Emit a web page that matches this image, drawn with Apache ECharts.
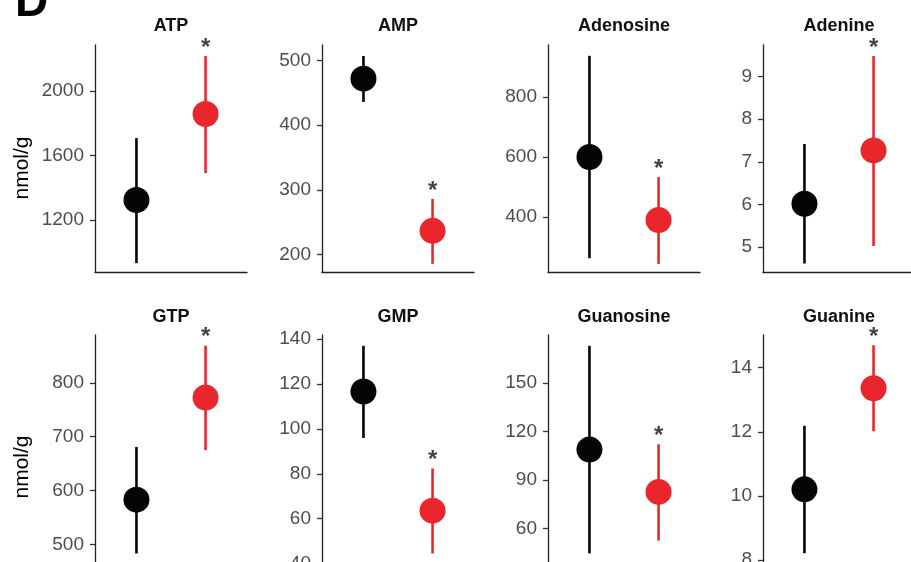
<!DOCTYPE html>
<html>
<head>
<meta charset="UTF-8">
<script src="https://cdn.jsdelivr.net/npm/echarts@6/dist/echarts.min.js"></script>
<style>
  html, body { margin: 0; padding: 0; background: #fff; }
  #main { width: 911px; height: 562px; }
</style>
</head>
<body>
<div id="main"></div>
<script>
// panel names (row 1 then row 2)
var panels = ['ATP', 'AMP', 'Adenosine', 'Adenine', 'GTP', 'GMP', 'Guanosine', 'Guanine'];

// control group (black): mean and error bar ends
var ctrlMean = [1324, 472, 600, 6.02, 583, 116.7, 108.8, 10.21];
var ctrlLow  = [933, 436, 263, 4.62, 483, 96, 44.5, 8.22];
var ctrlHigh = [1708, 507, 937, 7.42, 681, 137.1, 173.1, 12.19];

// treated group (red)
var trtMean = [1857, 236.6, 390, 7.27, 772.7, 63.6, 82.6, 13.36];
var trtLow  = [1491, 185.6, 244, 5.03, 675, 44.5, 52.4, 12.02];
var trtHigh = [2217, 286, 533, 9.48, 869, 82.4, 112.1, 14.7];

// y scale limits and tick labels per panel
var yMin = [878, 173, 217, 4.42, 443, 34.9, 31.1, 7.54];
var yMax = [2285, 524, 973, 9.74, 889, 141.9, 179.8, 15.02];
var yTicks = [
  [1200, 1600, 2000],
  [200, 300, 400, 500],
  [400, 600, 800],
  [5, 6, 7, 8, 9],
  [500, 600, 700, 800],
  [40, 60, 80, 100, 120, 140],
  [60, 90, 120, 150],
  [8, 10, 12, 14]
];

var FONT = 'Liberation Sans, Arial, sans-serif';
var BLACK = '#050505';
var RED = '#EA262D';

var chart = echarts.init(document.getElementById('main'));

var lefts = [95, 322, 548, 763];
var tops = [45, 335];
var heights = [227, 240];
var titleTops = [17, 308];
var W = 152;

var grids = [], xAxes = [], yAxes = [], series = [], titles = [];

panels.forEach(function (name, i) {
  var row = Math.floor(i / 4), col = i % 4;
  grids.push({ left: lefts[col], top: tops[row], width: W, height: heights[row], outerBoundsMode: 'none', containLabel: false });
  titles.push({
    text: name, left: lefts[col] + W / 2, top: titleTops[row], textAlign: 'center', padding: 0,
    textStyle: { fontFamily: FONT, fontWeight: 'bold', fontSize: 18, color: '#111' }
  });
  xAxes.push({
    gridIndex: i, type: 'value', min: 0.4, max: 2.6,
    axisLine: { show: true, onZero: false, lineStyle: { color: '#222', width: 1.3 } },
    axisTick: { show: false }, axisLabel: { show: false }, splitLine: { show: false }
  });
  yAxes.push({
    gridIndex: i, type: 'value', min: yMin[i], max: yMax[i],
    axisLine: { show: true, onZero: false, lineStyle: { color: '#222', width: 1.3 } },
    axisTick: { show: true, length: 5, customValues: yTicks[i], lineStyle: { color: '#333', width: 1.3 } },
    axisLabel: {
      customValues: yTicks[i], color: '#4d4d4d', fontSize: 19, fontFamily: FONT, margin: 11,
      formatter: function (v) { return String(v); }
    },
    splitLine: { show: false }
  });
  // error bars
  series.push({
    type: 'custom', xAxisIndex: i, yAxisIndex: i, z: 2,
    data: [[1, ctrlLow[i], ctrlHigh[i]], [2, trtLow[i], trtHigh[i]]],
    encode: { x: 0, y: [1, 2] },
    renderItem: function (params, api) {
      var a = api.coord([api.value(0), api.value(1)]);
      var b = api.coord([api.value(0), api.value(2)]);
      return {
        type: 'line',
        shape: { x1: a[0], y1: a[1], x2: b[0], y2: b[1] },
        style: { stroke: params.dataIndex === 0 ? BLACK : RED, lineWidth: 2.6 }
      };
    },
    silent: true
  });
  // means
  series.push({
    type: 'scatter', xAxisIndex: i, yAxisIndex: i, z: 3, symbolSize: 26,
    itemStyle: { opacity: 1 },
    data: [
      { value: [1, ctrlMean[i]], itemStyle: { color: BLACK, opacity: 1 } },
      { value: [2, trtMean[i]], itemStyle: { color: RED, opacity: 1 } }
    ],
    silent: true
  });
  // significance mark
  series.push({
    type: 'scatter', xAxisIndex: i, yAxisIndex: i, z: 4, symbolSize: 0,
    data: [[2, trtHigh[i]]],
    label: {
      show: true, formatter: '*', position: 'inside', offset: [0, -8],
      fontFamily: FONT, fontWeight: 'bold', fontSize: 24, color: '#111'
    },
    silent: true
  });
});

chart.setOption({
  animation: false,
  title: titles,
  grid: grids,
  xAxis: xAxes,
  yAxis: yAxes,
  series: series,
  graphic: [
    { type: 'text', x: 15, y: 26, style: { text: 'D', font: 'bold 46px ' + FONT, fill: '#000', verticalAlign: 'bottom' } },
    { type: 'text', x: 22, y: 168, rotation: Math.PI / 2, style: { text: 'nmol/g', font: '21px ' + FONT, fill: '#000', align: 'center', verticalAlign: 'middle' } },
    { type: 'text', x: 22, y: 467, rotation: Math.PI / 2, style: { text: 'nmol/g', font: '21px ' + FONT, fill: '#000', align: 'center', verticalAlign: 'middle' } }
  ]
});
</script>
</body>
</html>
